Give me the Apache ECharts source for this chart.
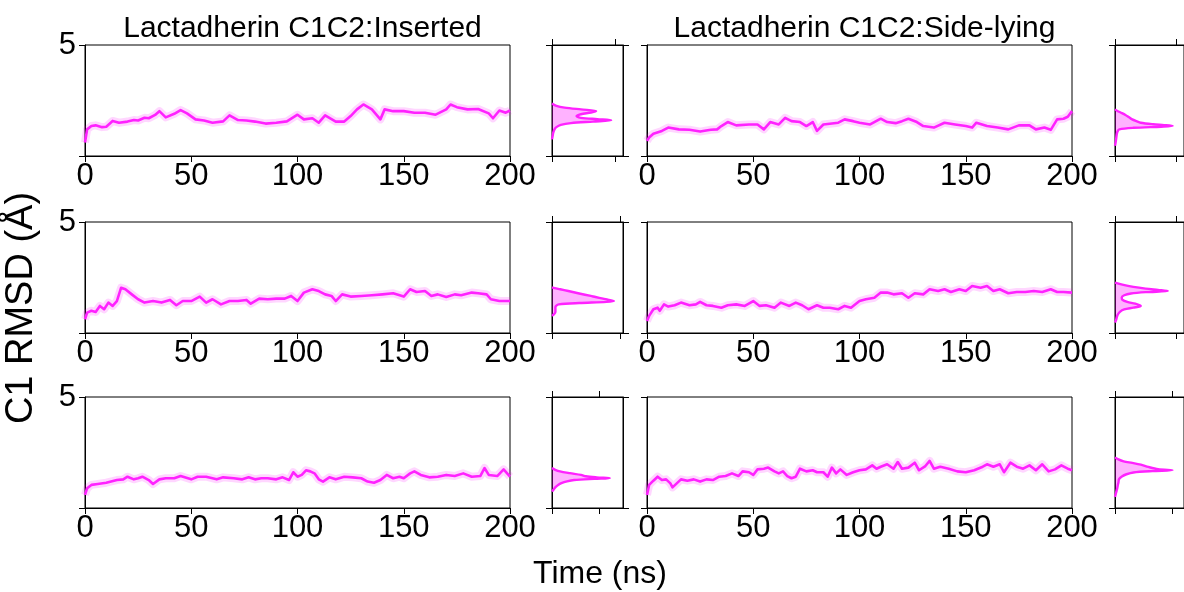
<!DOCTYPE html>
<html>
<head>
<meta charset="utf-8">
<script src="https://cdn.jsdelivr.net/npm/echarts@6/dist/echarts.min.js"></script>
<style>
  html, body { margin: 0; padding: 0; background: #fff; }
  #chart { width: 1184px; height: 592px; }
</style>
</head>
<body>
<div id="chart"></div>
<script>
// ---- time ticks ----
const timeTicks = [0, 50, 100, 150, 200];
const rmsdTicks = [0, 5];

// ---- C1 RMSD traces, [time (ns), RMSD (Å)] ----
const inserted1 = [[0,0.61],[1,1.2],[3,1.35],[5,1.38],[8,1.3],[10,1.32],[13,1.58],[16,1.5],[20,1.55],[23,1.62],[25,1.6],[28,1.72],[30,1.7],[33,1.85],[35,2.02],[38,1.74],[42,1.9],[45,2.07],[48,1.92],[52,1.65],[56,1.6],[60,1.5],[65,1.56],[68,1.83],[72,1.62],[76,1.6],[80,1.55],[85,1.46],[90,1.5],[95,1.56],[100,1.86],[103,1.65],[107,1.7],[110,1.5],[113,1.83],[118,1.55],[122,1.55],[125,1.8],[128,2.1],[131,2.32],[135,2.1],[139,1.65],[141,2.1],[145,2.02],[150,2.02],[155,1.95],[160,1.95],[165,1.86],[170,2.1],[172,2.32],[175,2.2],[180,2.1],[185,2.12],[190,1.92],[192,1.7],[195,2.05],[198,1.95],[200,2.05]];
const inserted2 = [[0,0.62],[1,0.92],[3,1.0],[5,0.95],[7,1.22],[9,1.07],[11,1.37],[13,1.22],[15,1.44],[17,2.04],[19,1.97],[22,1.74],[25,1.52],[28,1.37],[32,1.44],[36,1.37],[40,1.49],[43,1.25],[46,1.44],[50,1.44],[54,1.64],[57,1.37],[60,1.52],[64,1.29],[68,1.44],[72,1.44],[76,1.49],[78,1.32],[82,1.55],[86,1.52],[90,1.55],[94,1.55],[97,1.67],[100,1.44],[103,1.82],[107,1.97],[110,1.89],[113,1.74],[116,1.67],[118,1.44],[121,1.74],[125,1.64],[130,1.67],[135,1.7],[140,1.74],[145,1.79],[150,1.64],[153,1.97],[156,1.85],[160,1.89],[163,1.67],[166,1.74],[170,1.62],[174,1.74],[177,1.7],[182,1.82],[185,1.79],[189,1.74],[191,1.52],[195,1.44],[200,1.44]];
const inserted3 = [[0,0.59],[1,0.89],[3,1.04],[6,1.08],[10,1.14],[15,1.26],[18,1.29],[20,1.41],[23,1.29],[25,1.34],[27,1.41],[30,1.26],[32,1.08],[35,1.29],[38,1.34],[42,1.34],[45,1.44],[50,1.29],[53,1.41],[57,1.41],[62,1.29],[65,1.38],[70,1.34],[74,1.29],[77,1.38],[80,1.29],[83,1.34],[86,1.34],[90,1.29],[93,1.38],[96,1.26],[98,1.61],[100,1.41],[102,1.49],[104,1.7],[106,1.65],[108,1.56],[110,1.29],[112,1.19],[115,1.38],[118,1.29],[122,1.41],[126,1.38],[130,1.34],[133,1.19],[136,1.14],[139,1.26],[142,1.49],[145,1.34],[148,1.41],[150,1.34],[153,1.56],[155,1.65],[158,1.49],[162,1.38],[166,1.41],[170,1.49],[174,1.44],[178,1.56],[182,1.41],[186,1.44],[188,1.8],[190,1.49],[194,1.44],[197,1.74],[200,1.41]];
const sideLying1 = [[0,0.68],[1,0.83],[3,1.0],[7,1.13],[10,1.28],[15,1.2],[20,1.18],[25,1.1],[30,1.18],[33,1.2],[35,1.35],[38,1.53],[42,1.38],[48,1.42],[52,1.42],[55,1.2],[58,1.53],[62,1.42],[65,1.72],[68,1.57],[72,1.53],[75,1.35],[78,1.53],[80,1.13],[83,1.42],[90,1.5],[93,1.65],[97,1.57],[100,1.5],[105,1.42],[110,1.68],[113,1.53],[117,1.48],[120,1.57],[123,1.68],[127,1.53],[130,1.35],[135,1.28],[140,1.5],[145,1.42],[150,1.35],[153,1.28],[155,1.5],[160,1.35],[165,1.28],[170,1.2],[175,1.38],[180,1.38],[183,1.2],[187,1.28],[190,1.18],[193,1.65],[196,1.68],[198,1.77],[200,2.02]];
const sideLying2 = [[0,0.54],[1,0.77],[3,1.07],[5,1.14],[6,1.0],[8,1.29],[10,1.19],[13,1.25],[16,1.37],[20,1.25],[23,1.29],[25,1.4],[28,1.25],[31,1.22],[35,1.14],[38,1.25],[42,1.29],[46,1.22],[50,1.44],[53,1.22],[56,1.25],[60,1.14],[63,1.37],[67,1.22],[70,1.37],[73,1.25],[76,1.07],[80,1.25],[83,1.14],[86,1.14],[90,1.07],[93,1.22],[96,1.14],[100,1.44],[103,1.52],[107,1.59],[110,1.82],[113,1.82],[116,1.74],[120,1.79],[123,1.59],[126,1.79],[130,1.74],[133,1.97],[137,1.89],[140,1.97],[143,1.85],[147,1.97],[150,1.89],[153,2.12],[157,2.04],[160,2.12],[163,1.89],[166,1.97],[170,1.79],[174,1.85],[178,1.85],[182,1.89],[186,1.85],[190,1.97],[193,1.85],[196,1.85],[200,1.82]];
const sideLying3 = [[0,0.59],[1,1.04],[3,1.23],[5,1.41],[7,1.26],[9,1.29],[11,1.11],[12,0.93],[14,1.11],[16,1.29],[19,1.23],[22,1.29],[25,1.19],[28,1.29],[31,1.26],[34,1.41],[37,1.44],[40,1.56],[43,1.44],[45,1.65],[48,1.61],[50,1.49],[52,1.74],[55,1.77],[57,1.82],[60,1.65],[62,1.56],[64,1.65],[66,1.44],[68,1.34],[70,1.41],[72,1.77],[75,1.65],[78,1.7],[80,1.61],[83,1.61],[85,1.41],[87,1.82],[89,1.56],[91,1.74],[94,1.49],[97,1.61],[100,1.7],[103,1.74],[106,1.92],[108,1.77],[110,1.86],[113,1.97],[116,1.77],[118,2.07],[120,1.77],[123,1.82],[126,2.04],[128,1.7],[131,1.89],[133,2.12],[135,1.77],[138,1.86],[142,1.77],[146,1.65],[150,1.61],[154,1.7],[158,1.86],[160,1.97],[163,1.86],[166,1.97],[168,1.61],[171,2.04],[174,1.86],[177,1.77],[180,1.92],[183,1.7],[186,1.97],[189,1.65],[192,1.74],[195,1.92],[198,1.77],[200,1.7]];

// ---- RMSD distributions, [RMSD (Å), density] ----
const distInserted1 = [[0.75,0],[0.9,0.01],[1.05,0.02],[1.2,0.04],[1.3,0.07],[1.4,0.14],[1.48,0.3],[1.55,0.65],[1.61,0.94],[1.66,0.72],[1.72,0.46],[1.8,0.39],[1.88,0.46],[1.96,0.62],[2.03,0.7],[2.1,0.46],[2.18,0.2],[2.26,0.07],[2.37,0]];
const distInserted2 = [[0.77,0],[0.85,0.03],[0.95,0.05],[1.05,0.05],[1.15,0.05],[1.22,0.06],[1.29,0.1],[1.35,0.4],[1.4,0.8],[1.44,0.91],[1.5,0.82],[1.55,0.75],[1.62,0.64],[1.67,0.57],[1.78,0.4],[1.89,0.24],[1.97,0.12],[2.02,0.04],[2.06,0]];
const distInserted3 = [[0.74,0],[0.85,0.04],[0.95,0.08],[1.04,0.13],[1.12,0.2],[1.2,0.32],[1.26,0.47],[1.31,0.9],[1.34,1.23],[1.38,0.95],[1.43,0.72],[1.49,0.62],[1.57,0.38],[1.65,0.17],[1.72,0.07],[1.8,0]];
const distSideLying1 = [[0.46,0],[0.6,0.01],[0.8,0.02],[1.0,0.03],[1.1,0.04],[1.2,0.07],[1.27,0.3],[1.32,0.75],[1.35,0.94],[1.39,0.8],[1.43,0.62],[1.5,0.42],[1.57,0.35],[1.65,0.28],[1.74,0.23],[1.85,0.17],[1.95,0.1],[2.03,0.04],[2.1,0]];
const distSideLying2 = [[0.47,0],[0.6,0.02],[0.8,0.04],[0.95,0.08],[1.06,0.15],[1.14,0.3],[1.22,0.42],[1.32,0.33],[1.4,0.2],[1.5,0.12],[1.6,0.11],[1.7,0.15],[1.78,0.26],[1.84,0.5],[1.89,0.86],[1.94,0.7],[2.0,0.5],[2.08,0.3],[2.18,0.12],[2.27,0]];
const distSideLying3 = [[0.5,0],[0.7,0.02],[0.9,0.04],[1.05,0.05],[1.15,0.06],[1.3,0.07],[1.42,0.12],[1.52,0.2],[1.6,0.32],[1.66,0.65],[1.7,1.0],[1.75,0.75],[1.85,0.58],[1.95,0.45],[2.03,0.3],[2.1,0.15],[2.2,0.05],[2.28,0]];

// density axis upper limit of each side panel (tick drawn at 1)
const densityMax = [1.127, 1.044, 1.511, 1.125, 1.125, 1.2];

const panelTitles = ['Lactadherin C1C2:Inserted', 'Lactadherin C1C2:Side-lying'];
const yName = 'C1 RMSD (Å)';
const xName = 'Time (ns)';

const traces = [inserted1, inserted2, inserted3, sideLying1, sideLying2, sideLying3];
const dists = [distInserted1, distInserted2, distInserted3, distSideLying1, distSideLying2, distSideLying3];

const FONT = 'Liberation Sans, Arial, Helvetica, sans-serif';
const MAGENTA = '#ff22ff';
const rowTops = [45, 222, 397];
const rowHeight = 111;
const mainLeft = [85, 647];
const mainWidth = 425;
const sideLeft = [552, 1115];
const sideWidth = [71, 72];

const grids = [], xAxes = [], yAxes = [], series = [];
const spine = { show: true, onZero: false, lineStyle: { color: '#000', width: 1 } };

for (let col = 0; col < 2; col++) {
  for (let row = 0; row < 3; row++) {
    const k = col * 3 + row;
    // main time-series panel
    const gMain = grids.length;
    grids.push({ left: mainLeft[col], top: rowTops[row], width: mainWidth, height: rowHeight,
      show: true, borderColor: '#000', borderWidth: 1, backgroundColor: 'transparent' });
    const xMain = xAxes.length;
    xAxes.push({ type: 'value', gridIndex: gMain, min: timeTicks[0], max: timeTicks[timeTicks.length - 1],
      interval: timeTicks[1] - timeTicks[0],
      axisLine: spine,
      axisTick: { show: true, length: 6, lineStyle: { color: '#000' } },
      axisLabel: { show: true, fontSize: 31, color: '#000', fontFamily: FONT, margin: 5,
        showMinLabel: true, showMaxLabel: true },
      splitLine: { show: false } });
    const yMain = yAxes.length;
    yAxes.push({ type: 'value', gridIndex: gMain, min: rmsdTicks[0], max: rmsdTicks[1],
      interval: rmsdTicks[1] - rmsdTicks[0],
      axisLine: spine,
      axisTick: { show: true, length: 6, lineStyle: { color: '#000' } },
      axisLabel: { show: col === 0, fontSize: 31, color: '#000', fontFamily: FONT, margin: 9,
        showMinLabel: true, showMaxLabel: true,
        formatter: v => (v === rmsdTicks[1] ? String(v) : '') },
      splitLine: { show: false } });
    // soft band behind the trace
    series.push({ type: 'line', xAxisIndex: xMain, yAxisIndex: yMain, data: traces[k],
      showSymbol: false, silent: true, z: 2,
      lineStyle: { color: 'rgba(255,0,255,0.16)', width: 8, join: 'round' } });
    series.push({ type: 'line', xAxisIndex: xMain, yAxisIndex: yMain, data: traces[k],
      showSymbol: false, silent: true, z: 3,
      lineStyle: { color: MAGENTA, width: 2.6, join: 'round' } });

    // distribution side panel
    const gSide = grids.length;
    grids.push({ left: sideLeft[col], top: rowTops[row], width: sideWidth[col], height: rowHeight,
      show: true, borderColor: '#000', borderWidth: 1, backgroundColor: 'transparent' });
    const sideTick = { show: true, length: 6, customValues: [0, 1], lineStyle: { color: '#000' } };
    const xSideB = xAxes.length;
    xAxes.push({ type: 'value', gridIndex: gSide, min: 0, max: densityMax[k], position: 'bottom',
      axisLine: spine, axisTick: sideTick,
      axisLabel: { show: false }, splitLine: { show: false } });
    xAxes.push({ type: 'value', gridIndex: gSide, min: 0, max: densityMax[k], position: 'top',
      axisLine: spine, axisTick: sideTick,
      axisLabel: { show: false }, splitLine: { show: false } });
    const ySideL = yAxes.length;
    const yTick = { show: true, length: 6, lineStyle: { color: '#000' } };
    yAxes.push({ type: 'value', gridIndex: gSide, min: rmsdTicks[0], max: rmsdTicks[1],
      interval: rmsdTicks[1] - rmsdTicks[0], position: 'left',
      axisLine: spine, axisTick: yTick,
      axisLabel: { show: false }, splitLine: { show: false } });
    yAxes.push({ type: 'value', gridIndex: gSide, min: rmsdTicks[0], max: rmsdTicks[1],
      interval: rmsdTicks[1] - rmsdTicks[0], position: 'right',
      axisLine: spine, axisTick: yTick,
      axisLabel: { show: false }, splitLine: { show: false } });

    const dist = dists[k];
    const pts = dist.map(p => [p[1], p[0]]);
    // filled area between density curve and the zero-density axis
    series.push({ type: 'custom', xAxisIndex: xSideB, yAxisIndex: ySideL, data: pts, silent: true, z: 2,
      encode: { x: 0, y: 1 },
      renderItem: (params, api) => {
        if (params.dataIndex !== 0) return null;
        const poly = pts.map(p => api.coord(p));
        poly.unshift(api.coord([0, pts[0][1]]));
        poly.push(api.coord([0, pts[pts.length - 1][1]]));
        return { type: 'polygon', shape: { points: poly }, style: { fill: 'rgba(255,0,255,0.3)' } };
      } });
    series.push({ type: 'line', xAxisIndex: xSideB, yAxisIndex: ySideL, data: pts,
      showSymbol: false, silent: true, z: 3, smooth: 0.3,
      lineStyle: { color: MAGENTA, width: 2.4, join: 'round' } });
  }
}

const chart = echarts.init(document.getElementById('chart'), null, { renderer: 'canvas' });
chart.setOption({
  animation: false,
  backgroundColor: '#fff',
  grid: grids,
  xAxis: xAxes,
  yAxis: yAxes,
  series: series,
  title: panelTitles.map((t, i) => ({
    text: t, left: mainLeft[i] + mainWidth / 2, top: 9, textAlign: 'center',
    textStyle: { fontSize: 30, fontWeight: 'normal', color: '#000', fontFamily: FONT }
  })),
  graphic: [
    { type: 'text', x: 22, y: 308, rotation: Math.PI / 2,
      style: { text: yName, fontSize: 38, fill: '#000', fontFamily: FONT, align: 'center', verticalAlign: 'middle' } },
    { type: 'text', x: 600, y: 574,
      style: { text: xName, fontSize: 32, fill: '#000', fontFamily: FONT, align: 'center', verticalAlign: 'middle' } }
  ]
});
</script>
</body>
</html>
